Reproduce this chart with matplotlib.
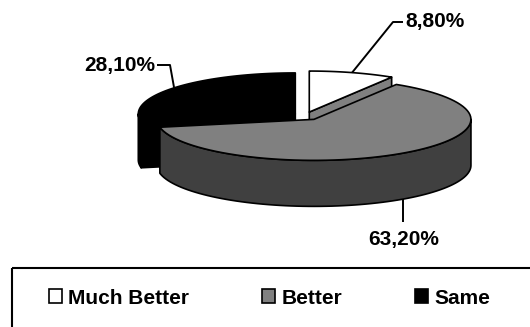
import numpy as np
import matplotlib
matplotlib.use("Agg")
import matplotlib.pyplot as plt
from matplotlib.patches import Polygon, Rectangle, Patch

plt.rcParams['font.family'] = ['Liberation Sans', 'DejaVu Sans']
plt.rcParams['font.weight'] = 'bold'

# survey answers
categories = ['Much Better', 'Better', 'Same']
values = [8.80, 63.20, 28.10]
top_colors = ['#FFFFFF', '#808080', '#000000']
side_colors = ['#808080', '#404040', '#000000']
explode = [0.10, 0.10, 0.08]

# 3d pie geometry, in pixels
cx, cy = 305, 116
rx, ry = 157, 41
depth = 46
lw = 1.2

fig = plt.figure(figsize=(5.30, 3.27), dpi=100)
ax = fig.add_axes([0, 0, 1, 1])
ax.set_xlim(0, 530)
ax.set_ylim(327, 0)
ax.axis('off')

frac = np.array(values) / sum(values)
ends = np.cumsum(frac) * 2 * np.pi
starts = ends - frac * 2 * np.pi
mids = (starts + ends) / 2


def centre(i):
    m = mids[i]
    return (cx + explode[i] * rx * np.sin(m), cy - explode[i] * ry * np.cos(m))


def arc(c, t0, t1, dy=0.0, n=80):
    t = np.linspace(t0, t1, n)
    return np.column_stack([c[0] + rx * np.sin(t), c[1] - ry * np.cos(t) + dy])


def draw_slice(i, z):
    c = centre(i)
    a0, a1 = starts[i], ends[i]
    kw = dict(edgecolor='black', linewidth=lw, joinstyle='round')
    # cut faces that turn towards the viewer
    for t, s in ((a0, 1), (a1, -1)):
        if s * np.sin(t) < -1e-6:
            p = arc(c, t, t, n=1)[0]
            quad = [c, p, (p[0], p[1] + depth), (c[0], c[1] + depth)]
            ax.add_patch(Polygon(quad, closed=True, facecolor=side_colors[i], zorder=z, **kw))
    # outer wall on the front half
    lo, hi = max(a0, np.pi / 2), min(a1, 3 * np.pi / 2)
    if lo < hi:
        wall = np.vstack([arc(c, lo, hi), arc(c, lo, hi, depth)[::-1]])
        ax.add_patch(Polygon(wall, closed=True, facecolor=side_colors[i], zorder=z + 1, **kw))
    top = np.vstack([[c], arc(c, a0, a1)])
    ax.add_patch(Polygon(top, closed=True, facecolor=top_colors[i], zorder=z + 2, **kw))


# back slices first
for z, i in enumerate([2, 0, 1]):
    draw_slice(i, 10 + 3 * z)


def label(v):
    return f"{v:.2f}".replace('.', ',') + '%'


fs = 15
line_kw = dict(color='black', lw=1.4, zorder=30, solid_capstyle='butt')

# Much Better: from top arc up to the right
c = centre(0)
p = arc(c, mids[0], mids[0], n=1)[0]
ax.plot([p[0], 393, 403], [p[1], 22, 22], **line_kw)
ax.text(405, 22, label(values[0]), fontsize=fs, fontweight='bold', ha='left', va='center')

# Same: from top arc up to the left
c = centre(2)
p = arc(c, mids[2], mids[2], n=1)[0]
ax.plot([p[0], 170, 157], [p[1], 65, 65], **line_kw)
ax.text(155, 65, label(values[2]), fontsize=fs, fontweight='bold', ha='right', va='center')

# Better: from the bottom of the wall straight down
c = centre(1)
p = arc(c, mids[1], mids[1], depth, n=1)[0]
ax.plot([p[0], p[0]], [p[1], 222], **line_kw)
ax.text(p[0], 239, label(values[1]), fontsize=fs, fontweight='bold', ha='center', va='center')

# legend box
ax.add_patch(Rectangle((12, 268), 600, 100, fill=False, edgecolor='black', linewidth=1.5, zorder=40))
handles = [Patch(facecolor=top_colors[i], edgecolor='black', linewidth=1.2) for i in range(3)]
ax.legend(handles, categories, ncol=3, loc='center left', bbox_to_anchor=(49, 298),
          bbox_transform=ax.transData, frameon=False, borderpad=0, borderaxespad=0,
          handlelength=0.63, handleheight=0.63, handletextpad=0.3, columnspacing=3.5,
          prop={'size': fs, 'weight': 'bold'})

fig.savefig('out.png', dpi=100)
